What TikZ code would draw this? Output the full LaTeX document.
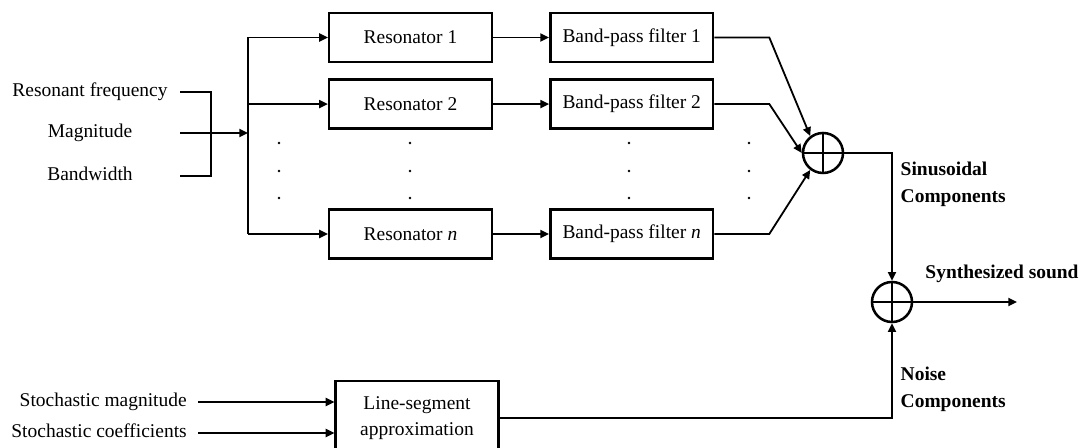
\documentclass[tikz,border=0pt]{standalone}
\usepackage{fontspec}
\setmainfont{Liberation Serif}
\usetikzlibrary{positioning,arrows.meta}

\begin{document}
\begin{tikzpicture}[
      x=0.75pt, y=-0.75pt,
      font=\fontsize{14.6}{20}\selectfont,
      box/.style={draw, rectangle, line width=1.9pt, minimum width=122pt,
                  minimum height=37pt, inner sep=0pt, align=center},
      arrow/.style={-{Triangle[length=6.5pt,width=6pt]}, line width=1.35pt},
      wire/.style={line width=1.35pt},
      sum/.style={draw, circle, line width=1.9pt, minimum size=30pt, inner sep=0pt,
                  path picture={\draw[line width=1.6pt]
                    (path picture bounding box.north) -- (path picture bounding box.south)
                    (path picture bounding box.west) -- (path picture bounding box.east);}},
      inp/.style={minimum width=135pt, inner sep=0pt, align=center,
                  text height=10pt, text depth=3pt},
      stoch/.style={anchor=east, inner xsep=8.25pt, inner ysep=0pt,
                    text height=10pt, text depth=3pt},
      lab/.style={font=\fontsize{14.6}{20}\selectfont\bfseries, align=left},
    ]
    \useasboundingbox (0,0) rectangle (1084,448);

    % resonator bank and filters
    \node[box] (res1) at (410.5,37.5) {Resonator 1};
    \node[box, below=11pt of res1] (res2) {Resonator 2};
    \node[box] (resn) at (410.5,234) {Resonator \textit{n}};
    \node[box, right=42pt of res1] (bpf1) {Band-pass filter 1};
    \node[box, right=42pt of res2] (bpf2) {Band-pass filter 2};
    \node[box, right=42pt of resn] (bpfn) {Band-pass filter \textit{n}};

    % parameters
    \node[inp] (freq) at (90,92) {Resonant frequency};
    \node[inp] (mag) at (90,133) {Magnitude};
    \node[inp] (bw) at (90,176) {Bandwidth};
    \coordinate (brk) at (211,133);
    \coordinate (bus) at (248,133);
    \draw[wire] (freq.east) -| (brk) |- (bw.east);
    \draw[arrow] (mag.east) -- (bus);
    \draw[wire] (bus |- res1) -- (bus |- resn);
    \foreach \r in {res1,res2,resn}
      \draw[arrow] (bus |- \r) -- (\r.west);
    \foreach \r/\f in {res1/bpf1,res2/bpf2,resn/bpfn}
      \draw[arrow] (\r) -- (\f);

    % dots between rows
    \foreach \x in {279,410,629,749}
      \foreach \y in {143,171,198}
        \fill (\x,\y) circle (1pt);

    % adders
    \node[sum] (sum1) at (823,153) {};
    \node[sum] (sum2) at (892,302) {};
    \draw[arrow] (bpf1.east) -- ++(55,0) -- (sum1.127);
    \draw[arrow] (bpf2.east) -- ++(55,0) -- (sum1.west);
    \draw[arrow] (bpfn.east) -- ++(55,0) -- (sum1.233);
    \draw[arrow] (sum1.east) -| (sum2.north);
    \node[lab, anchor=west] (sinus) at (896,184) {Sinusoidal\\Components};

    \coordinate (out) at (1017,302);
    \draw[arrow] (sum2.east) -- (out);
    \node[lab] (synth) at (1002,274) {Synthesized sound};

    % noise part
    \node[box, minimum height=55.5pt] (lsa) at (417,418) {Line-segment\\approximation};
    \node[stoch] (smag) at (198,402) {Stochastic magnitude};
    \node[stoch] (scoef) at (198,433) {Stochastic coefficients};
    \draw[arrow] (smag.east) -- (smag.east -| lsa.west);
    \draw[arrow] (scoef.east) -- (scoef.east -| lsa.west);
    \draw[arrow] (lsa.east) -| (sum2.south);
    \node[lab, anchor=west] (noise) at (896,389) {Noise\\Components};
  \end{tikzpicture}
\end{document}
